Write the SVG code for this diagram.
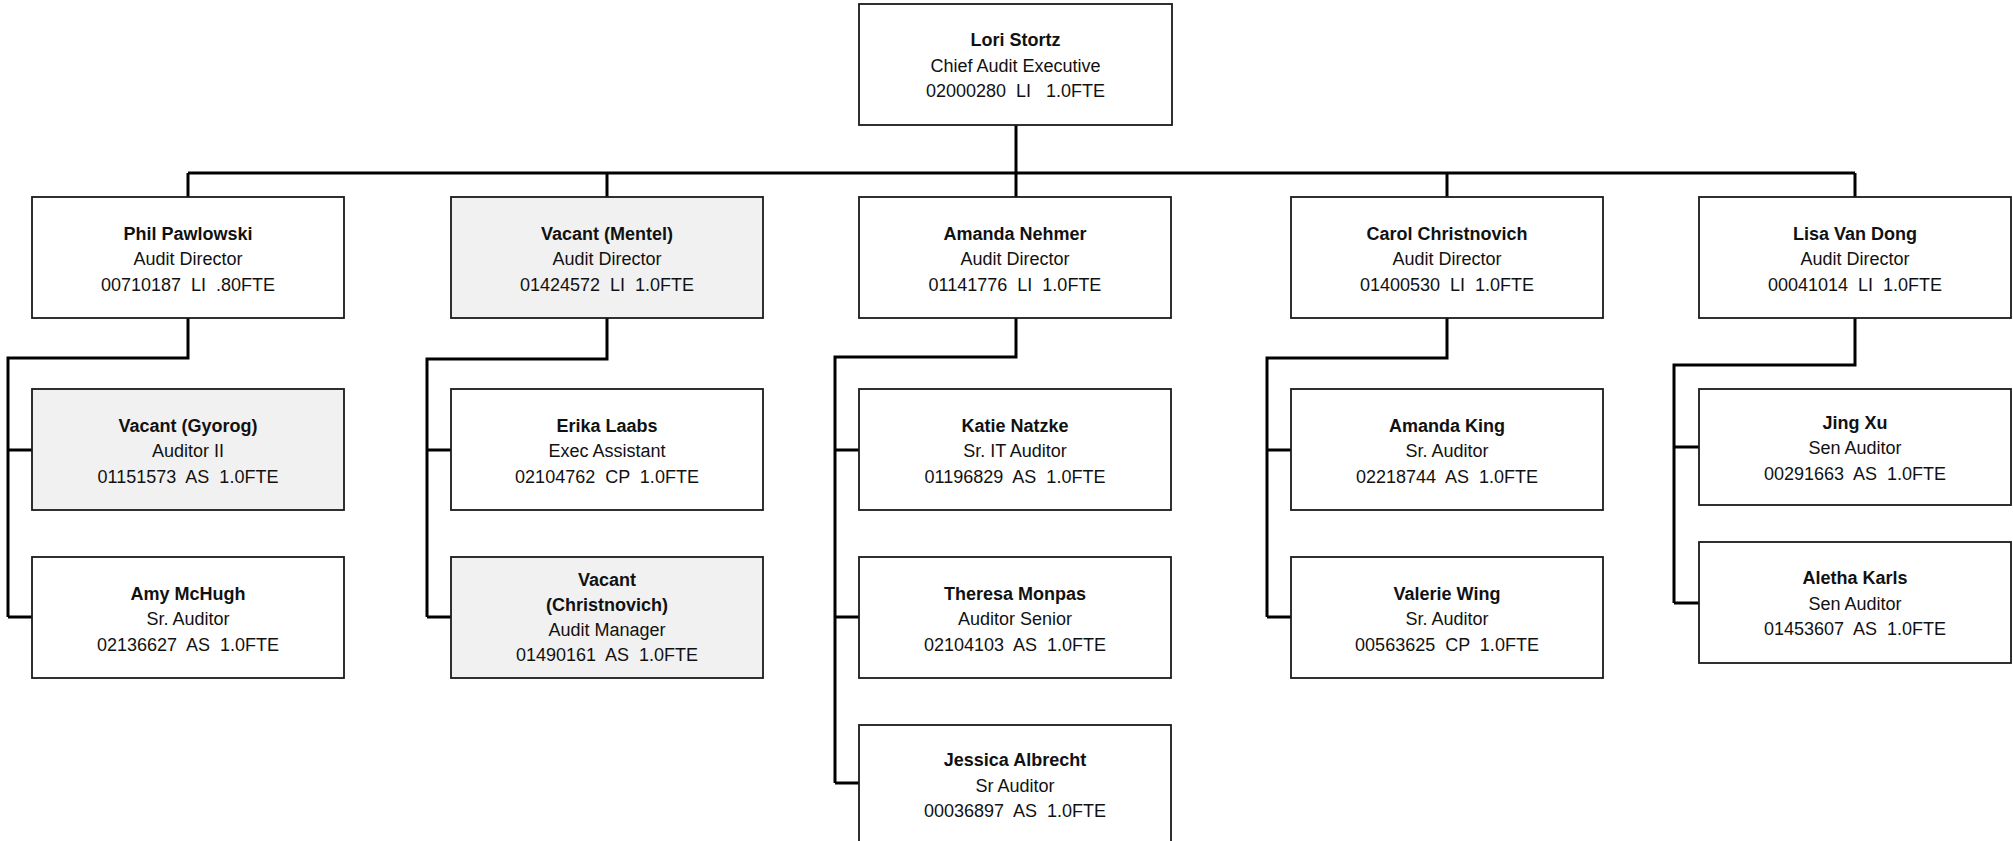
<svg xmlns="http://www.w3.org/2000/svg" width="2013" height="841" viewBox="0 0 2013 841">
<style>
.box{fill:#ffffff;stroke:#1a1a1a;stroke-width:1.8}
.vac{fill:#f1f1f1}
.conn{fill:none;stroke:#000;stroke-width:3;stroke-linejoin:miter}
text{font-family:"Liberation Sans",Arial,sans-serif;font-size:18px;fill:#111;text-anchor:middle;white-space:pre}
.nm{font-weight:bold}
</style>
<rect width="2013" height="841" fill="#fff"/>
<g id="connectors" class="conn">
<path d="M1016 125V173M188 173H1855M188 173V197M607 173V197M1016 173V197M1447 173V197M1855 173V197"/>
<path d="M188 318V358H8V617M8 450H32M8 617H32"/>
<path d="M607 318V359H427V617M427 450H451M427 617H451"/>
<path d="M1016 318V357H835V783M835 450H859M835 617H859M835 783H859"/>
<path d="M1447 318V358H1267V617M1267 450H1291M1267 617H1291"/>
<path d="M1855 318V365H1674V603M1674 447H1699M1674 603H1699"/>
</g>
<g id="lori"><rect class="box" x="859" y="4" width="313" height="121"/>
<text x="1015.5" y="46" class="nm">Lori Stortz</text><text x="1015.5" y="72">Chief Audit Executive</text><text x="1015.5" y="97">02000280  LI   1.0FTE</text></g>
<g id="phil"><rect class="box" x="32" y="197" width="312" height="121"/>
<text x="188" y="239.5" class="nm">Phil Pawlowski</text><text x="188" y="265">Audit Director</text><text x="188" y="290.5">00710187  LI  .80FTE</text></g>
<g id="mentel"><rect class="box vac" x="451" y="197" width="312" height="121"/>
<text x="607" y="239.5" class="nm">Vacant (Mentel)</text><text x="607" y="265">Audit Director</text><text x="607" y="290.5">01424572  LI  1.0FTE</text></g>
<g id="nehmer"><rect class="box" x="859" y="197" width="312" height="121"/>
<text x="1015" y="239.5" class="nm">Amanda Nehmer</text><text x="1015" y="265">Audit Director</text><text x="1015" y="290.5">01141776  LI  1.0FTE</text></g>
<g id="carol"><rect class="box" x="1291" y="197" width="312" height="121"/>
<text x="1447" y="239.5" class="nm">Carol Christnovich</text><text x="1447" y="265">Audit Director</text><text x="1447" y="290.5">01400530  LI  1.0FTE</text></g>
<g id="lisa"><rect class="box" x="1699" y="197" width="312" height="121"/>
<text x="1855" y="239.5" class="nm">Lisa Van Dong</text><text x="1855" y="265">Audit Director</text><text x="1855" y="290.5">00041014  LI  1.0FTE</text></g>
<g id="gyorog"><rect class="box vac" x="32" y="389" width="312" height="121"/>
<text x="188" y="431.5" class="nm">Vacant (Gyorog)</text><text x="188" y="457">Auditor II</text><text x="188" y="482.5">01151573  AS  1.0FTE</text></g>
<g id="mchugh"><rect class="box" x="32" y="557" width="312" height="121"/>
<text x="188" y="599.5" class="nm">Amy McHugh</text><text x="188" y="625">Sr. Auditor</text><text x="188" y="650.5">02136627  AS  1.0FTE</text></g>
<g id="laabs"><rect class="box" x="451" y="389" width="312" height="121"/>
<text x="607" y="431.5" class="nm">Erika Laabs</text><text x="607" y="457">Exec Assistant</text><text x="607" y="482.5">02104762  CP  1.0FTE</text></g>
<g id="christnovich-vacant"><rect class="box vac" x="451" y="557" width="312" height="121"/>
<text x="607" y="586" class="nm">Vacant</text><text x="607" y="611" class="nm">(Christnovich)</text><text x="607" y="636">Audit Manager</text><text x="607" y="661">01490161  AS  1.0FTE</text></g>
<g id="natzke"><rect class="box" x="859" y="389" width="312" height="121"/>
<text x="1015" y="431.5" class="nm">Katie Natzke</text><text x="1015" y="457">Sr. IT Auditor</text><text x="1015" y="482.5">01196829  AS  1.0FTE</text></g>
<g id="monpas"><rect class="box" x="859" y="557" width="312" height="121"/>
<text x="1015" y="599.5" class="nm">Theresa Monpas</text><text x="1015" y="625">Auditor Senior</text><text x="1015" y="650.5">02104103  AS  1.0FTE</text></g>
<g id="albrecht"><rect class="box" x="859" y="725" width="312" height="121"/>
<text x="1015" y="766" class="nm">Jessica Albrecht</text><text x="1015" y="791.5">Sr Auditor</text><text x="1015" y="817">00036897  AS  1.0FTE</text></g>
<g id="king"><rect class="box" x="1291" y="389" width="312" height="121"/>
<text x="1447" y="431.5" class="nm">Amanda King</text><text x="1447" y="457">Sr. Auditor</text><text x="1447" y="482.5">02218744  AS  1.0FTE</text></g>
<g id="wing"><rect class="box" x="1291" y="557" width="312" height="121"/>
<text x="1447" y="599.5" class="nm">Valerie Wing</text><text x="1447" y="625">Sr. Auditor</text><text x="1447" y="650.5">00563625  CP  1.0FTE</text></g>
<g id="xu"><rect class="box" x="1699" y="389" width="312" height="116"/>
<text x="1855" y="428.5" class="nm">Jing Xu</text><text x="1855" y="454">Sen Auditor</text><text x="1855" y="479.5">00291663  AS  1.0FTE</text></g>
<g id="karls"><rect class="box" x="1699" y="542" width="312" height="121"/>
<text x="1855" y="584" class="nm">Aletha Karls</text><text x="1855" y="609.5">Sen Auditor</text><text x="1855" y="635">01453607  AS  1.0FTE</text></g>
</svg>
